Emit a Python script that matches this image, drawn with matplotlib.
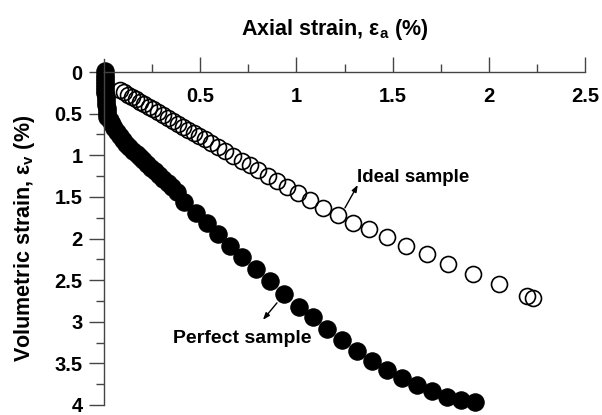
import matplotlib
matplotlib.use('Agg')
import matplotlib.pyplot as plt
from matplotlib.ticker import MultipleLocator, FixedLocator, FixedFormatter

plt.rcParams['font.family'] = ['Liberation Sans', 'DejaVu Sans']
plt.rcParams['font.weight'] = 'bold'
plt.rcParams['mathtext.fontset'] = 'custom'
plt.rcParams['mathtext.rm'] = 'Liberation Sans'
plt.rcParams['mathtext.it'] = 'Liberation Sans:italic'

# ideal sample (open circles)
ideal_x = [0.083, 0.104, 0.125, 0.145, 0.166, 0.187, 0.210, 0.234, 0.257, 0.281,
           0.306, 0.332, 0.358, 0.384, 0.410, 0.439, 0.468, 0.496, 0.525, 0.556,
           0.592, 0.629, 0.670, 0.717, 0.758, 0.800, 0.852, 0.899, 0.951, 1.008,
           1.070, 1.138, 1.216, 1.294, 1.377, 1.470, 1.569, 1.678, 1.787, 1.917,
           2.052, 2.197, 2.229]
ideal_y = [0.216, 0.244, 0.271, 0.300, 0.328, 0.355, 0.387, 0.418, 0.449, 0.481,
           0.516, 0.551, 0.586, 0.621, 0.655, 0.694, 0.732, 0.771, 0.809, 0.851,
           0.899, 0.948, 1.005, 1.067, 1.122, 1.179, 1.248, 1.311, 1.381, 1.457,
           1.541, 1.631, 1.717, 1.813, 1.885, 1.981, 2.089, 2.185, 2.305, 2.425,
           2.545, 2.689, 2.713]

# perfect sample (filled circles)
perfect_x = [0.003, 0.003, 0.004, 0.004, 0.005, 0.005, 0.006, 0.007, 0.008, 0.009,
             0.010, 0.011, 0.013, 0.014, 0.016, 0.018, 0.029, 0.039, 0.052, 0.068,
             0.083, 0.099, 0.114, 0.132, 0.151, 0.169, 0.187, 0.205, 0.223, 0.244,
             0.265, 0.286, 0.306, 0.330, 0.353, 0.379, 0.416, 0.478, 0.535, 0.592,
             0.655, 0.717, 0.790, 0.862, 0.935, 1.013, 1.086, 1.158, 1.236, 1.314,
             1.392, 1.470, 1.548, 1.626, 1.704, 1.782, 1.855, 1.927]
perfect_y = [-0.015, 0.036, 0.072, 0.108, 0.144, 0.180, 0.216, 0.252, 0.288, 0.324,
             0.360, 0.396, 0.432, 0.468, 0.504, 0.540, 0.576, 0.624, 0.672, 0.720,
             0.768, 0.816, 0.864, 0.904, 0.944, 0.983, 1.023, 1.062, 1.102, 1.148,
             1.193, 1.239, 1.285, 1.336, 1.387, 1.444, 1.561, 1.693, 1.813, 1.945,
             2.089, 2.221, 2.365, 2.509, 2.665, 2.821, 2.941, 3.085, 3.217, 3.349,
             3.469, 3.577, 3.673, 3.757, 3.829, 3.901, 3.938, 3.962]

x_ticks = [0.5, 1, 1.5, 2, 2.5]
x_labels = ['0.5', '1', '1.5', '2', '2.5']
y_ticks = [0, 0.5, 1, 1.5, 2, 2.5, 3, 3.5, 4]
y_labels = ['0', '0.5', '1', '1.5', '2', '2.5', '3', '3.5', '4']

fig = plt.figure(figsize=(6.02, 4.15), dpi=100)
ax = fig.add_axes([0.1728, 0.0241, 0.799, 0.8024])

ax.plot(ideal_x, ideal_y, 'o', ms=11.5, mfc='none', mec='black', mew=1.2, clip_on=False)
ax.plot(perfect_x, perfect_y, 'o', ms=12.5, mfc='black', mec='black', mew=0.8, clip_on=False)

ax.set_xlim(0, 2.5)
ax.set_ylim(4, 0)

for s in ['bottom', 'right']:
    ax.spines[s].set_visible(False)
for s in ['top', 'left']:
    ax.spines[s].set_color('#444444')
    ax.spines[s].set_linewidth(1.0)

ax.xaxis.set_ticks_position('top')
ax.xaxis.set_major_locator(FixedLocator(x_ticks))
ax.xaxis.set_major_formatter(FixedFormatter(x_labels))
ax.xaxis.set_minor_locator(MultipleLocator(0.25))
ax.yaxis.set_major_locator(FixedLocator(y_ticks))
ax.yaxis.set_major_formatter(FixedFormatter(y_labels))
ax.yaxis.set_minor_locator(MultipleLocator(0.25))

ax.tick_params(axis='both', which='major', direction='out', length=10.5, width=1.0,
               color='#444444', labelsize=14.5)
ax.tick_params(axis='both', which='minor', direction='out', length=6, width=1.0,
               color='#444444')
ax.tick_params(axis='x', which='major', labeltop=True, labelbottom=False, pad=-35)
ax.tick_params(axis='y', which='major', pad=5)
# unlabelled tick at x = 0
ax.axvline(0, ymin=1, ymax=1.04, color='#444444', lw=1.0, clip_on=False)

ax.set_xlabel(r'Axial strain, $\mathrm{\varepsilon_a}$ (%)', fontsize=15.5, fontweight='bold')
ax.xaxis.set_label_position('top')
ax.xaxis.set_label_coords(0.48, 1.11)
ax.set_ylabel(r'Volumetric strain, $\mathrm{\varepsilon_v}$ (%)', fontsize=15.5, fontweight='bold')
ax.yaxis.set_label_coords(-0.14, 0.5)

ax.text(1.314, 1.32, 'Ideal sample', fontsize=13.5, fontweight='bold',
        ha='left', va='baseline')
ax.annotate('', xy=(1.319, 1.357), xytext=(1.252, 1.633),
            arrowprops=dict(arrowstyle='-|>,head_length=0.4,head_width=0.15',
                            color='black', lw=1.0, shrinkA=0, shrinkB=0))
ax.text(0.358, 3.25, 'Perfect sample', fontsize=14, fontweight='bold',
        ha='left', va='baseline')
ax.annotate('', xy=(0.826, 2.977), xytext=(0.899, 2.773),
            arrowprops=dict(arrowstyle='-|>,head_length=0.4,head_width=0.15',
                            color='black', lw=1.0, shrinkA=0, shrinkB=0))

fig.savefig('out.png', dpi=100)
